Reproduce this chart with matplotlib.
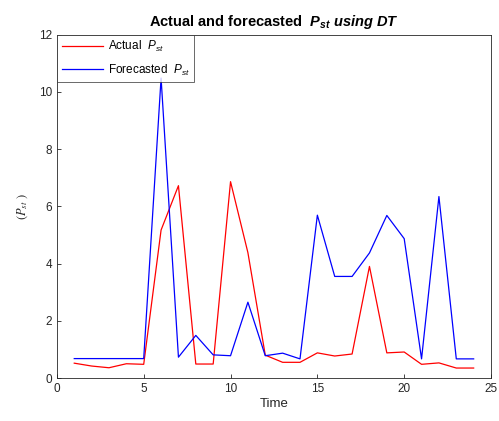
import matplotlib
matplotlib.use('Agg')
import matplotlib.pyplot as plt

plt.rcParams['font.family'] = ['Liberation Sans', 'DejaVu Sans']
plt.rcParams['mathtext.fontset'] = 'custom'
plt.rcParams['mathtext.rm'] = 'Liberation Sans'
plt.rcParams['mathtext.it'] = 'Liberation Sans:italic'
plt.rcParams['mathtext.bf'] = 'Liberation Sans:bold:italic'

# hours
time = list(range(1, 25))
actual = [0.52, 0.42, 0.36, 0.50, 0.48, 5.17, 6.72, 0.49, 0.49, 6.86, 4.38, 0.80,
          0.55, 0.55, 0.88, 0.77, 0.84, 3.90, 0.88, 0.91, 0.48, 0.53, 0.35, 0.35]
forecast = [0.68, 0.68, 0.68, 0.68, 0.68, 10.48, 0.73, 1.49, 0.81, 0.78, 2.65, 0.78,
            0.87, 0.67, 5.69, 3.55, 3.55, 4.37, 5.68, 4.87, 0.67, 6.34, 0.67, 0.67]

fig = plt.figure(figsize=(4.99, 4.21), dpi=100)
ax = fig.add_axes([0.114, 0.102, 0.870, 0.816])

ax.plot(time, actual, color='red', lw=0.9, label=r'Actual  $P_{st}$')
ax.plot(time, forecast, color='blue', lw=0.9, label=r'Forecasted  $P_{st}$')

ax.set_xlim(0, 25)
ax.set_ylim(0, 12)
ax.set_xticks([0, 5, 10, 15, 20, 25])
ax.set_yticks([0, 2, 4, 6, 8, 10, 12])
ax.tick_params(direction='in', length=3, width=0.6, labelsize=8.5, colors='#262626')
for s in ax.spines.values():
    s.set_linewidth(0.6)
    s.set_color('#262626')

ax.set_xlabel('Time', fontsize=9.5, color='#262626', labelpad=2)
# y label in a serif face like the original
ax.set_ylabel(r'$(P_{st}\ )$', fontsize=9, color='#262626', labelpad=6,
              math_fontfamily='stix')
ax.set_title(r'Actual and forecasted  $\mathbf{P_{st}\ using\ DT}$',
             fontsize=10.5, fontweight='bold', pad=6)

leg = ax.legend(loc='upper left', fontsize=8.5, frameon=True, fancybox=False,
                borderaxespad=0, handlelength=3.5, handletextpad=0.4,
                borderpad=0.4, labelspacing=0.7)
leg.get_frame().set_edgecolor('#262626')
leg.get_frame().set_linewidth(0.6)

fig.savefig('out.png', dpi=100)
